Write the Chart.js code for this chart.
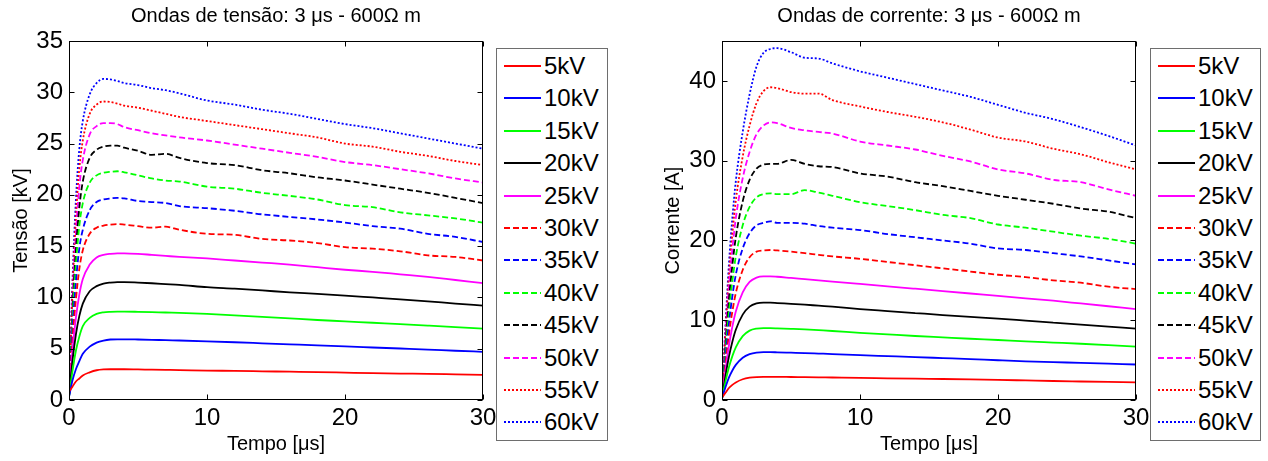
<!DOCTYPE html>
<html>
<head>
<meta charset="utf-8">
<script src="https://cdn.jsdelivr.net/npm/chart.js@4.4.0/dist/chart.umd.min.js"></script>
<style>
  body { margin: 0; background: #fff; width: 1268px; height: 461px; overflow: hidden; position: relative;
         font-family: "Liberation Sans", Arial, sans-serif; }
  canvas { position: absolute; top: 0; }
  #cvTensao { left: 0; }
  #cvCorrente { left: 640px; }
  .titulo { position: absolute; top: 3px; width: 414px; text-align: center; font-size: 20px; line-height: 24px; color: #000; white-space: nowrap; }
  .legend { position: absolute; top: 48px; height: 391px; border: 1px solid #6e6e6e; background: #fff; z-index: 2; }
  .row { position: absolute; left: 0; height: 28px; width: 100%; }
  .row svg { position: absolute; left: 7px; top: 8px; }
  .row span { position: absolute; left: 47px; top: 0; font-size: 24px; line-height: 28px; color: #000; }
</style>
</head>
<body>
<canvas id="cvTensao" width="552" height="461"></canvas>
<canvas id="cvCorrente" width="578" height="461"></canvas>
<div class="titulo" style="left:69px">Ondas de tensão: 3 μs - 600Ω m</div>
<div class="titulo" style="left:722px">Ondas de corrente: 3 μs - 600Ω m</div>
<div class="legend" id="legTensao" style="left:496px;width:110px"></div>
<div class="legend" id="legCorrente" style="left:1150px;width:109px"></div>
<script>
// time axis [us]
const tempo = [0, 0.25, 0.5, 0.75, 1, 1.5, 2, 2.5, 3, 3.5, 4, 5, 6, 7, 8, 10, 12, 14, 16, 18, 20, 22, 24, 26, 28, 30];
const serieLabels = ['5kV', '10kV', '15kV', '20kV', '25kV', '30kV', '35kV', '40kV', '45kV', '50kV', '55kV', '60kV'];
const xTicks = [0, 10, 20, 30];

// voltage waves [kV]
const tensao05 = [0.8, 1.3, 1.8, 2.1, 2.4, 2.7, 2.9, 2.98, 3.0, 3.0, 3.0, 2.98, 2.96, 2.94, 2.92, 2.87, 2.84, 2.8, 2.76, 2.72, 2.67, 2.62, 2.58, 2.55, 2.5, 2.45];
const tensao10 = [0.3, 1.9, 3.0, 3.8, 4.5, 5.2, 5.6, 5.8, 5.9, 5.92, 5.92, 5.9, 5.87, 5.83, 5.8, 5.72, 5.63, 5.53, 5.43, 5.33, 5.22, 5.12, 5.02, 4.92, 4.8, 4.7];
const tensao15 = [0.3, 2.8, 4.8, 6.2, 7.2, 8.0, 8.4, 8.55, 8.6, 8.62, 8.62, 8.6, 8.57, 8.53, 8.5, 8.4, 8.25, 8.1, 7.95, 7.8, 7.67, 7.53, 7.4, 7.25, 7.1, 6.95];
const tensao20 = [0.3, 3.8, 6.4, 8.2, 9.4, 10.6, 11.1, 11.35, 11.45, 11.5, 11.5, 11.45, 11.38, 11.3, 11.22, 11.0, 10.85, 10.68, 10.5, 10.35, 10.18, 10.0, 9.82, 9.62, 9.4, 9.2];
const tensao25 = [0.3, 4.8, 8.0, 10.3, 11.8, 13.2, 13.9, 14.15, 14.25, 14.3, 14.3, 14.25, 14.15, 14.05, 13.95, 13.8, 13.6, 13.4, 13.2, 12.95, 12.7, 12.5, 12.25, 12.0, 11.7, 11.4];
const tensao30 = [0.3, 5.8, 9.8, 12.8, 14.6, 16.2, 16.8, 17.0, 17.1, 17.15, 17.1, 16.95, 16.8, 16.9, 16.6, 16.2, 16.1, 15.7, 15.55, 15.3, 14.9, 14.75, 14.5, 14.1, 13.95, 13.6];
const tensao35 = [0.3, 6.8, 11.5, 14.8, 16.6, 18.5, 19.3, 19.55, 19.65, 19.7, 19.65, 19.4, 19.3, 19.2, 18.9, 18.7, 18.45, 18.1, 17.85, 17.6, 17.3, 16.95, 16.7, 16.2, 15.9, 15.4];
const tensao40 = [0.3, 7.8, 13.2, 17.0, 19.2, 21.2, 21.9, 22.15, 22.25, 22.3, 22.2, 21.9, 21.6, 21.4, 21.3, 20.8, 20.6, 20.2, 19.9, 19.55, 19.0, 18.8, 18.3, 18.0, 17.7, 17.3];
const tensao45 = [0.3, 8.6, 14.6, 18.8, 21.3, 23.6, 24.4, 24.7, 24.8, 24.8, 24.6, 24.3, 23.9, 24.0, 23.6, 23.1, 22.9, 22.4, 22.1, 21.7, 21.4, 21.0, 20.6, 20.2, 19.7, 19.2];
const tensao50 = [0.3, 9.6, 16.2, 20.8, 23.4, 25.9, 26.7, 27.0, 27.0, 26.9, 26.6, 26.3, 26.0, 25.8, 25.6, 25.3, 24.9, 24.5, 24.1, 23.7, 23.2, 22.9, 22.5, 22.1, 21.6, 21.2];
const tensao55 = [0.3, 10.5, 17.8, 22.6, 25.3, 27.9, 28.8, 29.1, 29.05, 28.9, 28.7, 28.5, 28.2, 27.9, 27.6, 27.2, 26.8, 26.4, 26.0, 25.6, 25.0, 24.7, 24.2, 23.8, 23.3, 22.9];
const tensao60 = [0.3, 11.5, 19.5, 24.5, 27.2, 29.8, 30.9, 31.3, 31.25, 31.1, 30.9, 30.7, 30.4, 30.2, 29.9, 29.2, 28.8, 28.3, 27.9, 27.4, 26.9, 26.5, 26.0, 25.5, 25.0, 24.5];

// current waves [A]
const corrente05 = [0.3, 0.9, 1.5, 1.9, 2.2, 2.6, 2.8, 2.88, 2.9, 2.9, 2.9, 2.88, 2.86, 2.84, 2.82, 2.78, 2.72, 2.67, 2.63, 2.58, 2.52, 2.45, 2.38, 2.32, 2.26, 2.2];
const corrente10 = [0.2, 1.6, 2.8, 3.7, 4.4, 5.3, 5.75, 5.95, 6.0, 6.0, 5.98, 5.93, 5.88, 5.82, 5.76, 5.62, 5.5, 5.38, 5.25, 5.12, 4.98, 4.85, 4.75, 4.65, 4.55, 4.45];
const corrente15 = [0.2, 2.3, 4.1, 5.5, 6.6, 8.0, 8.7, 8.95, 9.0, 9.0, 8.98, 8.92, 8.85, 8.75, 8.65, 8.42, 8.22, 8.02, 7.85, 7.68, 7.52, 7.35, 7.2, 7.05, 6.88, 6.7];
const corrente20 = [0.2, 3.0, 5.4, 7.3, 8.8, 10.7, 11.7, 12.1, 12.2, 12.2, 12.15, 12.05, 11.95, 11.82, 11.7, 11.4, 11.15, 10.9, 10.65, 10.42, 10.2, 9.95, 9.7, 9.45, 9.2, 8.95];
const corrente25 = [0.2, 3.7, 6.8, 9.2, 11.1, 13.5, 14.8, 15.35, 15.5, 15.5, 15.45, 15.3, 15.15, 15.0, 14.85, 14.55, 14.25, 13.95, 13.65, 13.35, 13.05, 12.75, 12.45, 12.1, 11.75, 11.4];
const corrente30 = [0.2, 4.4, 8.2, 11.1, 13.4, 16.3, 17.9, 18.6, 18.75, 18.8, 18.75, 18.6, 18.4, 18.2, 18.0, 17.7, 17.3, 16.9, 16.5, 16.1, 15.7, 15.4, 15.0, 14.7, 14.2, 13.9];
const corrente35 = [0.2, 5.2, 9.6, 13.0, 15.7, 19.0, 20.9, 21.9, 22.2, 22.4, 22.2, 22.2, 22.1, 21.8, 21.6, 21.3, 20.8, 20.4, 20.0, 19.6, 19.0, 18.8, 18.4, 18.0, 17.5, 17.0];
const corrente40 = [0.2, 6.0, 11.0, 14.9, 18.0, 21.9, 24.2, 25.4, 25.8, 25.9, 25.8, 25.8, 26.3, 26.0, 25.6, 24.8, 24.3, 23.8, 23.2, 22.8, 22.0, 21.6, 21.1, 20.6, 20.2, 19.6];
const corrente45 = [0.2, 6.8, 12.5, 16.9, 20.4, 24.9, 27.6, 29.0, 29.5, 29.6, 29.6, 30.1, 29.6, 29.3, 29.2, 28.4, 28.0, 27.3, 26.8, 26.2, 25.6, 25.1, 24.6, 24.0, 23.6, 22.8];
const corrente50 = [0.2, 7.7, 14.0, 18.9, 22.8, 27.8, 31.1, 33.3, 34.4, 34.8, 34.7, 34.1, 33.8, 33.6, 33.4, 32.4, 31.9, 31.4, 30.6, 29.9, 28.9, 28.4, 27.6, 27.3, 26.4, 25.6];
const corrente55 = [0.2, 8.5, 15.5, 20.8, 25.0, 30.5, 34.4, 37.2, 38.7, 39.2, 39.1, 38.6, 38.4, 38.4, 37.6, 36.8, 36.1, 35.5, 34.8, 33.9, 32.9, 32.4, 31.5, 30.8, 29.8, 28.9];
const corrente60 = [0.2, 9.3, 17.0, 22.8, 27.4, 33.6, 38.3, 41.8, 43.5, 44.0, 44.1, 43.6, 42.9, 42.8, 42.2, 41.2, 40.4, 39.6, 38.8, 38.0, 37.0, 36.0, 35.2, 34.2, 33.1, 31.9];

const tensaoSeries = [tensao05, tensao10, tensao15, tensao20, tensao25, tensao30, tensao35, tensao40, tensao45, tensao50, tensao55, tensao60];
const correnteSeries = [corrente05, corrente10, corrente15, corrente20, corrente25, corrente30, corrente35, corrente40, corrente45, corrente50, corrente55, corrente60];

// matlab colour order r b g k m
const cores = ['#ff0000', '#0000ff', '#00ff00', '#000000', '#ff00ff'];
function dashFor(i) { return i < 5 ? [] : (i < 10 ? [6, 3] : [2, 2]); }

const FONT = '"Liberation Sans", Arial, sans-serif';
Chart.defaults.color = '#000';
Chart.defaults.font.family = FONT;

function buildDatasets(series) {
  return series.map((vals, i) => ({
    label: serieLabels[i],
    data: vals.map((v, k) => ({ x: tempo[k], y: v })),
    borderColor: cores[i % 5],
    borderWidth: 1.8,
    borderDash: dashFor(i),
    pointRadius: 0,
    cubicInterpolationMode: 'monotone',
    fill: false
  }));
}

// box around plot with inward ticks, matlab look
const boxPlugin = {
  id: 'matlabBox',
  afterDatasetsDraw(chart) {
    const { ctx, chartArea: a, scales: { x, y } } = chart;
    ctx.save();
    ctx.strokeStyle = '#000';
    ctx.lineWidth = 1;
    ctx.setLineDash([]);
    const l = Math.round(a.left) + 0.5, r = Math.round(a.right) - 0.5;
    const t = Math.round(a.top) + 0.5, b = Math.round(a.bottom) - 0.5;
    ctx.strokeRect(l, t, r - l, b - t);
    ctx.beginPath();
    x.ticks.forEach(tk => {
      const px = Math.round(x.getPixelForValue(tk.value)) + 0.5;
      ctx.moveTo(px, b); ctx.lineTo(px, b - 5);
      ctx.moveTo(px, t); ctx.lineTo(px, t + 5);
    });
    y.ticks.forEach(tk => {
      const py = Math.round(y.getPixelForValue(tk.value)) + 0.5;
      ctx.moveTo(l, py); ctx.lineTo(l + 5, py);
      ctx.moveTo(r, py); ctx.lineTo(r - 5, py);
    });
    ctx.stroke();
    ctx.restore();
  }
};

function makeChart(id, series, yTitle, yMax, yStep, yWidth, yTitlePad, padRight) {
  return new Chart(document.getElementById(id), {
    type: 'line',
    data: { datasets: buildDatasets(series) },
    options: {
      responsive: false,
      animation: false,
      layout: { padding: { left: 0, right: padRight, top: 41, bottom: 0 } },
      plugins: {
        legend: { display: false },
        tooltip: { enabled: false }
      },
      scales: {
        x: {
          type: 'linear', min: 0, max: 30,
          afterBuildTicks: s => { s.ticks = xTicks.map(v => ({ value: v })); },
          afterFit: s => { s.height = 61; },
          grid: { display: true, drawOnChartArea: false, drawTicks: false },
          border: { display: false },
          ticks: { font: { size: 24 }, padding: 4, maxRotation: 0 },
          title: { display: true, text: 'Tempo [μs]', font: { size: 20 }, padding: { top: 0, bottom: 5 } }
        },
        y: {
          min: 0, max: yMax,
          afterFit: s => { s.width = yWidth; },
          grid: { display: true, drawOnChartArea: false, drawTicks: false },
          border: { display: false },
          ticks: { stepSize: yStep, includeBounds: false, font: { size: 24 }, padding: 6 },
          title: { display: true, text: yTitle, font: { size: 20 }, padding: { top: yTitlePad, bottom: 0 } }
        }
      }
    },
    plugins: [boxPlugin]
  });
}

makeChart('cvTensao', tensaoSeries, 'Tensão [kV]', 35, 5, 69, 9, 69);
makeChart('cvCorrente', correnteSeries, 'Corrente [A]', 45, 10, 82, 21, 82);

// legends (boxed, outside plot)
function buildLegend(id) {
  const box = document.getElementById(id);
  serieLabels.forEach((lab, i) => {
    const row = document.createElement('div');
    row.className = 'row';
    row.style.top = (3 + i * 32.4) + 'px';
    const dash = dashFor(i).join(',');
    row.innerHTML = '<svg width="37" height="12"><line x1="0" y1="6" x2="37" y2="6" stroke="' + cores[i % 5] +
      '" stroke-width="1.8"' + (dash ? ' stroke-dasharray="' + dash + '"' : '') + '/></svg><span>' + lab + '</span>';
    box.appendChild(row);
  });
}
buildLegend('legTensao');
buildLegend('legCorrente');
</script>
</body>
</html>
